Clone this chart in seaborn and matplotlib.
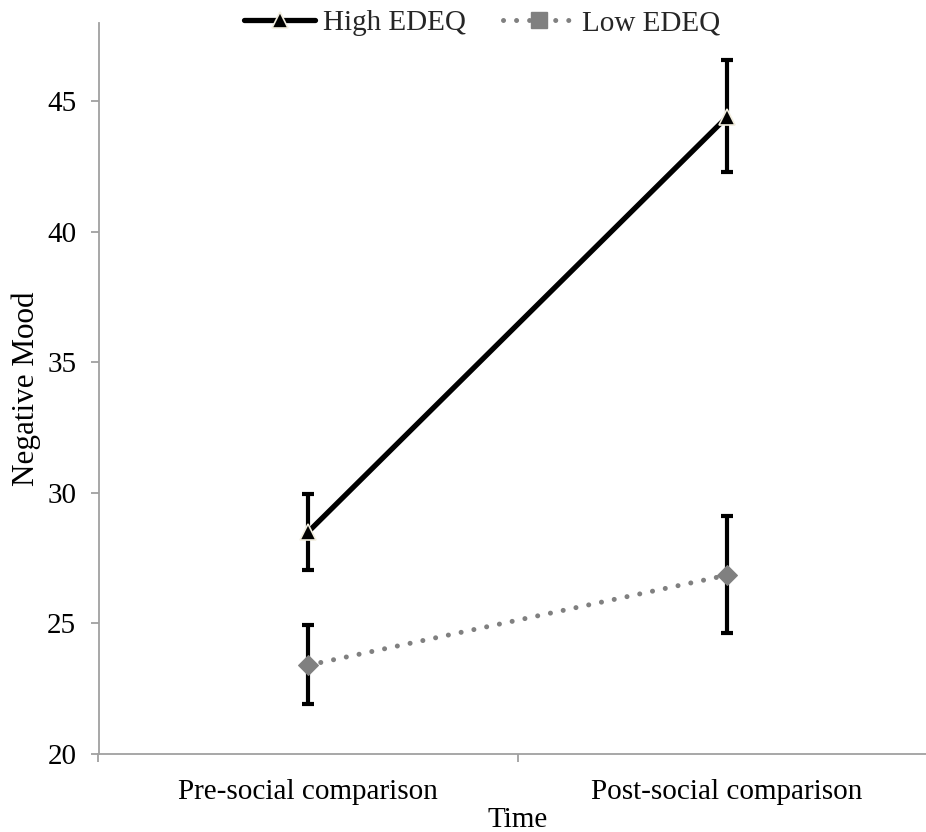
import matplotlib
matplotlib.use("Agg")
import matplotlib.pyplot as plt
from matplotlib.lines import Line2D
from matplotlib.ticker import FixedLocator
import seaborn as sns
import pandas as pd

times = ["Pre-social comparison", "Post-social comparison"]
high_mean = [28.5, 44.4]
high_lo = [27.05, 42.3]
high_hi = [29.95, 46.6]
low_mean = [23.4, 26.85]
low_lo = [21.9, 24.65]
low_hi = [24.95, 29.1]
yticks = [20, 25, 30, 35, 40, 45]

sns.set_theme(style="white")
plt.rcParams['font.family'] = ['Liberation Serif', 'DejaVu Serif']

FS = 21
W, H = 926, 832
fig = plt.figure(figsize=(W / 100, H / 100), dpi=100)
ax = fig.add_axes([98.5 / W, 78 / H, 838 / W, 731 / H])

df_high = pd.DataFrame({"Time": times, "Mood": high_mean})
df_low = pd.DataFrame({"Time": times, "Mood": low_mean})

DOTS = (0, (0.01, 2.6))

# error bars
ax.errorbar(times, high_mean,
            yerr=[[m - l for m, l in zip(high_mean, high_lo)], [h - m for m, h in zip(high_mean, high_hi)]],
            fmt="none", ecolor="black", elinewidth=3, capsize=4.5, capthick=3, zorder=2)
ax.errorbar(times, low_mean,
            yerr=[[m - l for m, l in zip(low_mean, low_lo)], [h - m for m, h in zip(low_mean, low_hi)]],
            fmt="none", ecolor="black", elinewidth=3, capsize=4.5, capthick=3, zorder=2)

sns.lineplot(data=df_high, x="Time", y="Mood", ax=ax, color="black", linewidth=3.8,
             marker="^", markersize=12, markerfacecolor="black", markeredgecolor="#f2eedf",
             markeredgewidth=1.2, zorder=3, sort=False)
sns.lineplot(data=df_low, x="Time", y="Mood", ax=ax, color="#808080", linewidth=3.6,
             linestyle=DOTS,
             marker="D", markersize=10.5, markerfacecolor="#808080", markeredgecolor="#808080",
             zorder=3, sort=False)
for ln in ax.get_lines():
    ln.set_dash_capstyle("round")

ax.set_xlim(-0.5, 1.5)
ax.set_ylim(20, 48)
ax.set_yticks(yticks)
ax.set_xticks([0, 1])
ax.set_xticklabels(times)
ax.xaxis.set_minor_locator(FixedLocator([-0.5, 0.5, 1.5]))

for side in ["top", "right"]:
    ax.spines[side].set_visible(False)
for side in ["left", "bottom"]:
    ax.spines[side].set_color("#a0a0a0")
    ax.spines[side].set_linewidth(1.3)

ax.tick_params(axis="x", which="major", length=0, pad=18, labelsize=FS, colors="black")
ax.tick_params(axis="x", which="minor", bottom=True, length=6, width=1.3, color="#a0a0a0", direction="out")
ax.tick_params(axis="y", which="major", left=True, length=6, width=1.3, color="#a0a0a0",
               direction="out", pad=10, labelsize=FS, labelcolor="black")

ax.set_xlabel("Time", fontsize=FS, color="black", labelpad=1.5)
ax.set_ylabel("Negative Mood", fontsize=22.4, color="black", labelpad=4)

handles = [
    Line2D([], [], color="black", linewidth=3.8, marker="^", markersize=12,
           markerfacecolor="black", markeredgecolor="#f2eedf", markeredgewidth=1.2),
    Line2D([], [], color="#808080", linewidth=3.6, linestyle=DOTS, dash_capstyle="round",
           marker="s", markersize=11, markerfacecolor="#808080", markeredgecolor="#808080"),
]
fig.legend(handles, ["High EDEQ", "Low EDEQ"], loc="upper center",
           bbox_to_anchor=(482 / W, 1.02), ncol=2, frameon=False, fontsize=FS,
           handlelength=2.45, handletextpad=0.25, columnspacing=1.3)

fig.savefig("out.png", dpi=100, facecolor="white")
